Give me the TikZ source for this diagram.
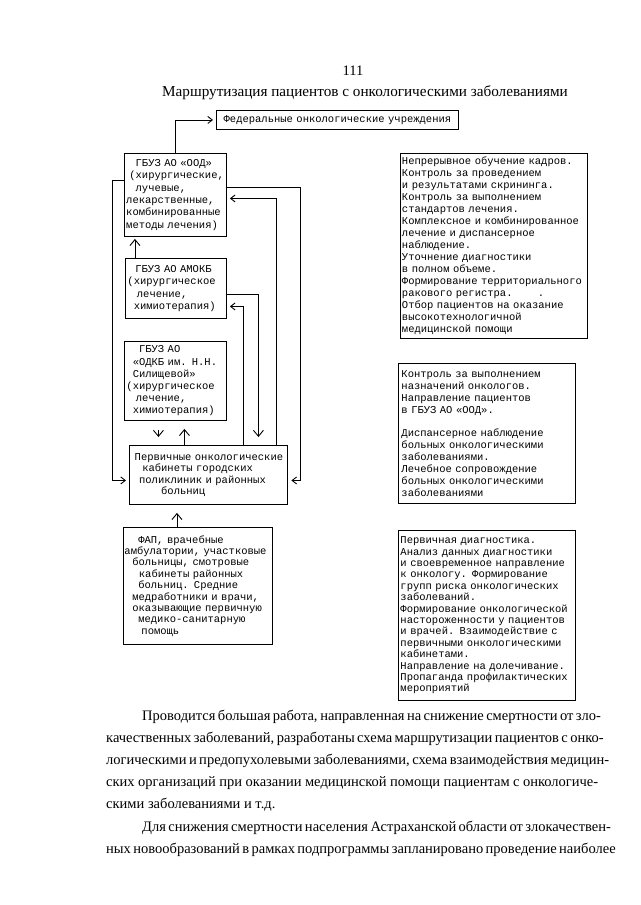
\documentclass[tikz,border=0pt]{standalone}
\usepackage{fontspec}
\setmainfont{Liberation Serif}
\newfontfamily\monof{Liberation Mono}
\usetikzlibrary{arrows.meta}
\newlength\cw \setlength\cw{6.3pt}
\newcommand\pd[1]{\hspace*{#1\cw}}
\tikzset{
 box/.style={draw, line width=0.9pt, anchor=north west, inner xsep=2pt, inner ysep=0pt, align=left, font=\monof\fontsize{10.5}{11.9}\selectfont},
 link/.style={line width=0.9pt},
 hd/.style={-{Straight Barb[length=4.5pt,width=7pt,line width=0.9pt]}},
 vhd/.style={-{Straight Barb[length=6pt,width=10pt,line width=0.9pt]}},
 body/.style={anchor=base west, inner sep=0pt, font=\fontsize{14.5}{17}\selectfont},
}
\begin{document}
\begin{tikzpicture}[x=1pt,y=-1pt]
\fill[white] (0,0) rectangle (640,905);
\useasboundingbox (0,0) rectangle (640,905);

\node[anchor=base, inner sep=0pt, font=\fontsize{14.5}{17}\selectfont] (pg) at (353,75) {111};
\node[anchor=base, inner sep=0pt, font=\fontsize{15.2}{18}\selectfont] (title) at (365,96) {Маршрутизация пациентов с онкологическими заболеваниями};

\node[box, text width=238pt, minimum height=19pt, align=center] (fed) at (216,110) {Федеральные онкологические учреждения};

\node[box, inner xsep=1.75pt, text width=98.5pt, minimum height=83pt, font=\monof\fontsize{10.5}{12.4}\selectfont] (ood) at (124,153) {\pd{1.5}ГБУЗ АО «ООД»\\\pd{0.5}(хирургические,\\\pd{1.5}лучевые,\\лекарственные,\\комбинированные\\методы лечения)};
\node[box, text width=97pt, minimum height=60pt, font=\monof\fontsize{10.5}{12.4}\selectfont] (amokb) at (125,258) {\pd{1.25}ГБУЗ АО АМОКБ\\(хирургическое\\\pd{1.5}лечение,\\\pd{1}химиотерапия)};
\node[box, text width=98pt, minimum height=79pt, font=\monof\fontsize{10.5}{12.2}\selectfont] (odkb) at (124,341) {\pd{2}ГБУЗ АО\\\pd{1}«ОДКБ им. Н.Н.\\\pd{1}Силищевой»\\(хирургическое\\\pd{1.5}лечение,\\\pd{1}химиотерапия)};
\node[box, inner xsep=1.5pt, text width=155pt, minimum height=59pt, font=\monof\fontsize{10.5}{11.4}\selectfont] (prim) at (129,445) {\pd{0.6}Первичные онкологические\\\pd{1.8}кабинеты городских\\\pd{1.3}поликлиник и районных\\\pd{4.8}больниц};
\node[box, inner xsep=1pt, text width=147pt, minimum height=117pt, font=\monof\fontsize{10.5}{11.4}\selectfont] (fap) at (123,527) {\pd{2.2}ФАП, врачебные\\амбулатории, участковые\\\pd{1.25}больницы, смотровые\\\pd{2.3}кабинеты районных\\\pd{2.2}больниц. Средние\\\pd{1.25}медработники и врачи,\\\pd{1.25}оказывающие первичную\\\pd{2.2}медико-санитарную\\\pd{2.7}помощь};

\node[box, inner xsep=1.5pt, text width=184pt, minimum height=185pt, font=\monof\fontsize{10.5}{12}\selectfont] (r1) at (400,153) {Непрерывное обучение кадров.\\Контроль за проведением\\и результатами скрининга.\\Контроль за выполнением\\стандартов лечения.\\Комплексное и комбинированное\\лечение и диспансерное\\наблюдение.\\Уточнение диагностики\\в полном объеме.\\Формирование территориального\\ракового регистра.\pd{4}.\\Отбор пациентов на оказание\\высокотехнологичной\\медицинской помощи};
\node[box, inner xsep=3pt, text width=171pt, minimum height=140pt] (r2) at (398,363) {Контроль за выполнением\\назначений онкологов.\\Направление пациентов\\в ГБУЗ АО «ООД».\\~\\Диспансерное наблюдение\\больных онкологическими\\заболеваниями.\\Лечебное сопровождение\\больных онкологическими\\заболеваниями};
\node[box, inner xsep=2pt, text width=173pt, minimum height=170pt, font=\monof\fontsize{10.5}{11.4}\selectfont] (r3) at (398,530) {Первичная диагностика.\\Анализ данных диагностики\\и своевременное направление\\к онкологу. Формирование\\групп риска онкологических\\заболеваний.\\Формирование онкологической\\настороженности у пациентов\\и врачей. Взаимодействие с\\первичными онкологическими\\кабинетами.\\Направление на долечивание.\\Пропаганда профилактических\\мероприятий};

\draw[link,hd,shorten >=3pt] (ood.north) |- (fed.west);
\draw[link,hd,shorten >=3pt] ([yshift=14.5pt]ood.west) -- ++(-12,0) |- ([yshift=-5.5pt]prim.west);
\draw[link,hd,shorten >=3.5pt] ([yshift=7.5pt]ood.east) -- ++(74,0) |- ([yshift=-5.5pt]prim.east);
\draw[link,hd,shorten >=3pt] ([xshift=68pt]prim.north) |- ([yshift=-3.5pt]ood.east);
\draw[link,vhd,shorten >=8pt] ([yshift=-6pt]amokb.east) -| ([xshift=50pt]prim.north);
\draw[link,hd,shorten >=3pt] ([xshift=35pt]prim.north) |- ([yshift=-18pt]amokb.east);
\draw[link,vhd,shorten >=2pt] ([xshift=-41pt]amokb.north) -- ([xshift=-41pt]amokb.north |- ood.south);
\draw[link,vhd,shorten >=8pt,shorten <=9pt] ([xshift=-17pt]odkb.south) -- ([xshift=-17pt]odkb.south |- prim.north);
\draw[link,vhd,shorten >=8pt] ([xshift=-24pt]prim.north) -- ([xshift=-24pt]prim.north |- odkb.south);
\draw[link,vhd,shorten >=8pt] ([xshift=-21pt]fap.north) -- ([xshift=-21pt]fap.north |- prim.south);

\node[body] (p1) at (142,720) {\makebox[456pt][s]{Проводится большая работа, направленная на снижение смертности от зло-}};
\node[body] (p2) at (106,742) {\makebox[492pt][s]{качественных заболеваний, разработаны схема маршрутизации пациентов с онко-}};
\node[body] (p3) at (106,764) {\makebox[492pt][s]{логическими и предопухолевыми заболеваниями, схема взаимодействия медицин-}};
\node[body] (p4) at (106,786) {\makebox[492pt][s]{ских организаций при оказании медицинской помощи пациентам с онкологиче-}};
\node[body] (p5) at (106,808) {скими заболеваниями и т.д.};
\node[body] (p6) at (142,831) {\makebox[456pt][s]{Для снижения смертности населения Астраханской области от злокачествен-}};
\node[body] (p7) at (106,853) {\makebox[492pt][s]{ных новообразований в рамках подпрограммы запланировано проведение наиболее}};
\end{tikzpicture}
\end{document}
